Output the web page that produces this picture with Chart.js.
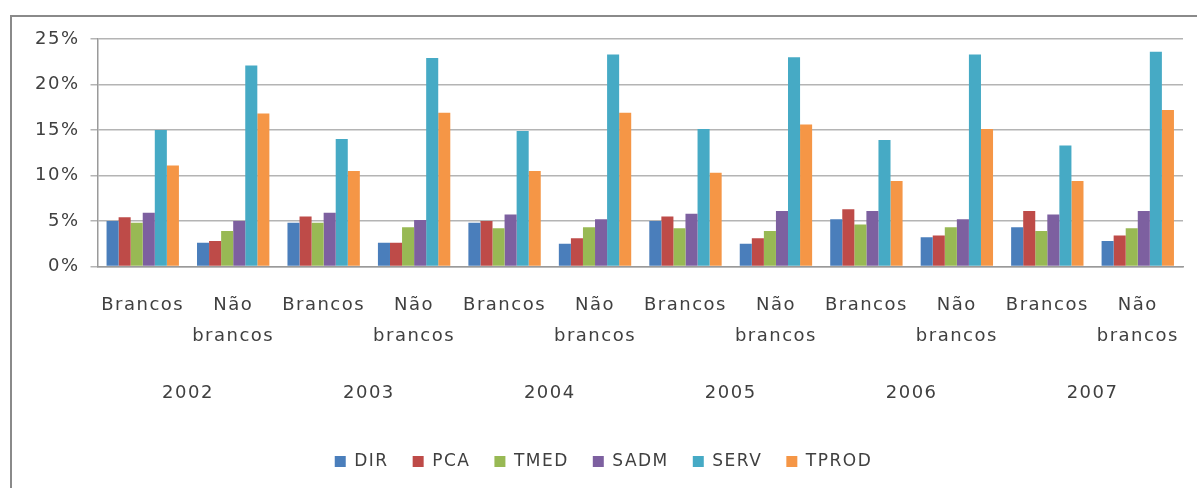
<!DOCTYPE html>
<html>
<head>
<meta charset="utf-8">
<script src="https://cdn.jsdelivr.net/npm/chart.js@4/dist/chart.umd.min.js"></script>
<style>
    html, body { margin: 0; padding: 0; background: #fff; }
    #wrap { position: relative; width: 1197px; height: 488px; }
    #frame {
        position: absolute; left: 10px; top: 15px; right: -5px; bottom: -5px;
        border-left: 2px solid #8a8a8a; border-top: 2px solid #8a8a8a;
        pointer-events: none;
    }
</style>
</head>
<body>
<div id="wrap">
    <canvas id="chart" width="1197" height="488"></canvas>
    <div id="frame"></div>
</div>
<script>
// Categories (two groups per year) and year row
const categories = [
    ['Brancos'], ['Não', 'brancos'],
    ['Brancos'], ['Não', 'brancos'],
    ['Brancos'], ['Não', 'brancos'],
    ['Brancos'], ['Não', 'brancos'],
    ['Brancos'], ['Não', 'brancos'],
    ['Brancos'], ['Não', 'brancos']
];
const years = ['2002', '2003', '2004', '2005', '2006', '2007'];

// Series values (percent)
const dir   = [5.0, 2.6, 4.8, 2.6, 4.8, 2.5, 5.0, 2.5, 5.2, 3.2, 4.3, 2.8];
const pca   = [5.4, 2.8, 5.5, 2.6, 5.0, 3.1, 5.5, 3.1, 6.3, 3.4, 6.1, 3.4];
const tmed  = [4.8, 3.9, 4.8, 4.3, 4.2, 4.3, 4.2, 3.9, 4.6, 4.3, 3.9, 4.2];
const sadm  = [5.9, 5.0, 5.9, 5.1, 5.7, 5.2, 5.8, 6.1, 6.1, 5.2, 5.7, 6.1];
const serv  = [15.0, 22.1, 14.0, 22.9, 14.9, 23.3, 15.1, 23.0, 13.9, 23.3, 13.3, 23.6];
const tprod = [11.1, 16.8, 10.5, 16.9, 10.5, 16.9, 10.3, 15.6, 9.4, 15.1, 9.4, 17.2];

const yTicks = [0, 5, 10, 15, 20, 25];

const seriesNames = ['DIR', 'PCA', 'TMED', 'SADM', 'SERV', 'TPROD'];
const seriesValues = [dir, pca, tmed, sadm, serv, tprod];
const seriesColors = ['#4a7ebb', '#be4b48', '#98b954', '#7d60a0', '#46aac5', '#f59646'];

const textColor = '#404040';
const fontFamily = 'DejaVu Sans';

// Excel-like wide text: set letter spacing on the canvas context
const spacingPlugin = {
    id: 'spacing',
    beforeUpdate(chart) { chart.ctx.letterSpacing = '1.5px'; },
    beforeLayout(chart) { chart.ctx.letterSpacing = '1.5px'; },
    beforeDraw(chart) { chart.ctx.letterSpacing = '1.5px'; }
};

const ctx = document.getElementById('chart').getContext('2d');
new Chart(ctx, {
    type: 'bar',
    data: {
        labels: categories,
        datasets: seriesNames.map((name, i) => ({
            label: name,
            data: seriesValues[i],
            backgroundColor: seriesColors[i],
            borderWidth: 0,
            categoryPercentage: 0.8,
            barPercentage: 1.0
        }))
    },
    options: {
        responsive: false,
        animation: false,
        layout: {
            padding: { top: 39, left: 24, right: 14, bottom: 8 }
        },
        scales: {
            y: {
                min: 0,
                max: 25,
                afterBuildTicks(scale) {
                    scale.ticks = yTicks.map(v => ({ value: v }));
                },
                ticks: {
                    color: textColor,
                    font: { family: fontFamily, size: 18 },
                    padding: 11,
                    callback: v => v + '%'
                },
                grid: { color: '#b4b4b4', lineWidth: 1.5, tickLength: 7 },
                border: { color: '#9a9a9a', width: 1.5 }
            },
            x: {
                ticks: {
                    color: textColor,
                    font: { family: fontFamily, size: 18, lineHeight: 1.72 },
                    padding: 23,
                    maxRotation: 0,
                    autoSkip: false
                },
                grid: { display: false, drawTicks: false },
                border: { color: '#9a9a9a', width: 1.5 },
                // labels fit inside their groups, so no extra side margin
                afterFit(scale) {
                    scale.paddingLeft = 0;
                    scale.paddingRight = 0;
                }
            },
            x2: {
                type: 'category',
                position: 'bottom',
                labels: years,
                offset: true,
                ticks: {
                    color: textColor,
                    font: { family: fontFamily, size: 18 },
                    padding: 8,
                    maxRotation: 0,
                    autoSkip: false
                },
                grid: { display: false, drawTicks: false },
                border: { display: false },
                afterFit(scale) { scale.height += 17; }
            }
        },
        plugins: {
            legend: {
                position: 'bottom',
                labels: {
                    color: textColor,
                    font: { family: fontFamily, size: 17 },
                    boxWidth: 11,
                    boxHeight: 11,
                    padding: 24
                }
            },
            tooltip: { enabled: false }
        }
    },
    plugins: [spacingPlugin]
});
</script>
</body>
</html>
